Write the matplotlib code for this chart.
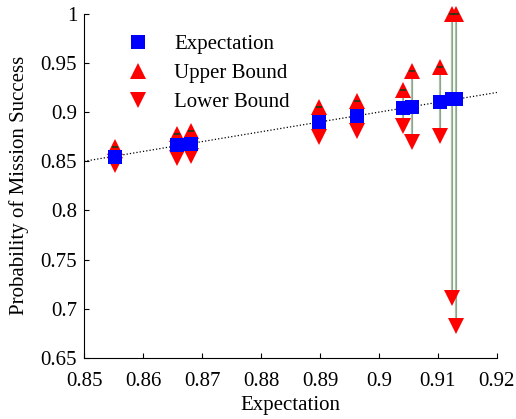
import matplotlib
matplotlib.use("Agg")
import matplotlib.pyplot as plt
import numpy as np

plt.rcParams['font.family'] = ['Liberation Serif', 'DejaVu Serif']

expect_x = [0.8553, 0.8658, 0.8682, 0.8899, 0.8962, 0.9040, 0.9056, 0.9103, 0.9124, 0.9131]
expect_y = [0.8547, 0.8669, 0.8680, 0.8898, 0.8959, 0.9045, 0.9055, 0.9106, 0.9130, 0.9137]
upper = [0.8640, 0.8780, 0.8810, 0.9050, 0.9115, 0.9220, 0.9415, 0.9460, 1.0000, 1.0000]
lower = [0.8460, 0.8530, 0.8550, 0.8750, 0.8810, 0.8860, 0.8700, 0.8755, 0.7110, 0.6827]
ref_line = [0.85, 0.92]

fig = plt.figure(figsize=(5.16, 4.19), dpi=100)
ax = fig.add_axes([0.163, 0.146, 0.800, 0.821])

# reference y = x dotted line
ax.plot(ref_line, ref_line, color='black', linestyle=':', linewidth=0.9, zorder=2)

# vertical interval lines
for x, lo, hi in zip(expect_x, lower, upper):
    ax.plot([x, x], [lo, hi], color='#a8bfa8', linewidth=1.6, zorder=1)
    ax.plot([x, x], [lo, hi], color='#7f9a7f', linewidth=0.5, zorder=1)

ax.plot(expect_x, upper, linestyle='none', marker='^', color='red', markersize=11.5,
        markeredgewidth=0, label='Upper Bound', zorder=3, clip_on=False)
ax.plot(expect_x, lower, linestyle='none', marker='v', color='red', markersize=11.5,
        markeredgewidth=0, label='Lower Bound', zorder=3, clip_on=False)
ax.plot(expect_x, upper, linestyle='none', marker='_', color='#1a3a1a', markersize=4,
        markeredgewidth=1.2, zorder=4, clip_on=False)
ax.plot(expect_x, expect_y, linestyle='none', marker='s', color='#0000ff', markersize=10,
        markeredgewidth=0, label='Expectation', zorder=5)

ax.set_xlim(0.85, 0.92)
ax.set_ylim(0.65, 1.0)
ax.set_xticks([0.85, 0.86, 0.87, 0.88, 0.89, 0.90, 0.91, 0.92])
ax.set_xticklabels(['0.85', '0.86', '0.87', '0.88', '0.89', '0.9', '0.91', '0.92'])
ax.set_yticks([0.65, 0.7, 0.75, 0.8, 0.85, 0.9, 0.95, 1.0])
ax.set_yticklabels(['0.65', '0.7', '0.75', '0.8', '0.85', '0.9', '0.95', '1'])
ax.tick_params(direction='in', length=3.5, width=0.8, labelsize=15)
ax.tick_params(axis='x', pad=10)
ax.tick_params(axis='y', pad=5)
ax.spines['top'].set_visible(False)
ax.spines['right'].set_visible(False)
ax.set_xlabel('Expectation', fontsize=15, labelpad=4)
ax.set_ylabel('Probability of Mission Success', fontsize=15, labelpad=8)

handles, labels = ax.get_legend_handles_labels()
order = [2, 0, 1]
ax.legend([handles[i] for i in order], [labels[i] for i in order],
          loc='upper left', bbox_to_anchor=(0.034, 0.994), frameon=False,
          fontsize=15, handletextpad=0.75, labelspacing=0.45, numpoints=1)

fig.savefig('out.png', dpi=100)
